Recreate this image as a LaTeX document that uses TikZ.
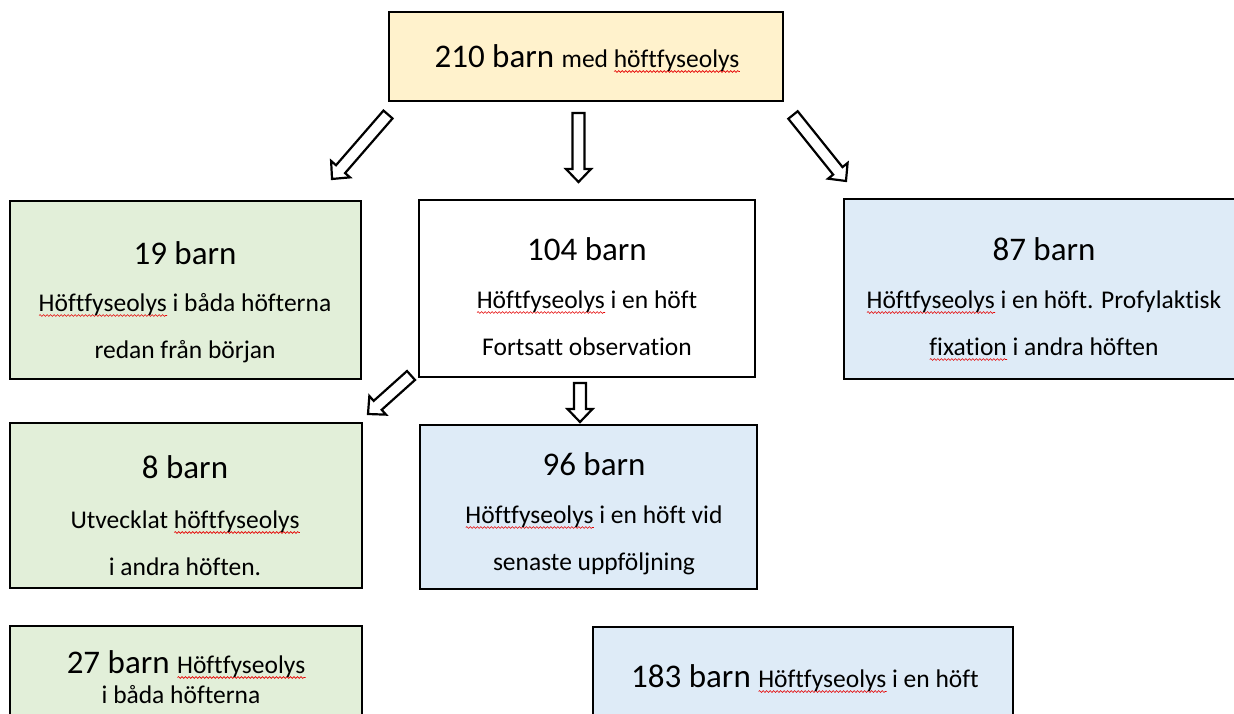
\documentclass[tikz,border=0pt]{standalone}
\usepackage{fontspec}
\setmainfont{Carlito}[Ligatures=NoCommon]
\usetikzlibrary{calc,decorations.pathmorphing}
\definecolor{ylw}{HTML}{FFF2CC}
\definecolor{grn}{HTML}{E2EFD9}
\definecolor{blu}{HTML}{DEEBF7}
\newlength\rwlen
\newcommand\redwave[1]{\settowidth\rwlen{#1}\rlap{\tikz[baseline=0pt]{\draw[red!90!black, line width=0.6pt, decorate, decoration={snake, amplitude=0.9pt, segment length=3.5pt}] (0pt,-4.5pt) -- (\rwlen,-4.5pt);}}#1}
\newcommand\bigtxt{\fontsize{33}{40}\selectfont}
\newcommand\smtxt{\fontsize{25.5}{30}\selectfont}
\newcommand\barrow[2]{%
  \pgfpointdiff{\pgfpointanchor{#1}{center}}{\pgfpointanchor{#2}{center}}%
  \pgfgetlastxy{\bdx}{\bdy}%
  \pgfmathsetmacro\bang{atan2(\bdy,\bdx)}%
  \pgfmathsetmacro\blen{veclen(\bdx,\bdy)}%
  \begin{scope}[shift={(#1)}, rotate=\bang]
    \draw[arrowline] (0,-6) -- (\blen-13,-6) -- (\blen-13,-12.5) -- (\blen,0)
      -- (\blen-13,12.5) -- (\blen-13,6) -- (0,6) -- cycle;
  \end{scope}}
\tikzset{
  box/.style={draw=black, line width=2.2pt, rectangle, inner sep=0pt},
  txt/.style={anchor=base, inner sep=0pt, text=black},
  arrowline/.style={draw=black, fill=white, line width=2.2pt, line join=miter},
}
\begin{document}
\begin{tikzpicture}[x=1pt,y=-1pt]
\useasboundingbox (0,0) rectangle (1234,713);
\begin{scope}
\clip (0,0) rectangle (1234,713);
% boxes
\node[box, fill=ylw, minimum width=394pt, minimum height=89pt] (top) at (586,56.5) {};
\node[box, fill=grn, minimum width=351pt, minimum height=178pt] (b19) at (185.5,290) {};
\node[box, fill=white, minimum width=336pt, minimum height=177pt] (b104) at (587,288.5) {};
\node[box, fill=blu, minimum width=391pt, minimum height=180pt] (b87) at (1039.5,289) {};
\node[box, fill=grn, minimum width=352pt, minimum height=165pt] (b8) at (186,505.5) {};
\node[box, fill=blu, minimum width=337pt, minimum height=164pt] (b96) at (588.5,507) {};
\node[box, fill=grn, minimum width=352pt, minimum height=114pt] (b27) at (186,683) {};
\node[box, fill=blu, minimum width=420pt, minimum height=113pt] (b183) at (803,683.5) {};

% texts
\node[txt] (ttop) at (587,67) {\bigtxt 210 barn \smtxt med \redwave{höftfyseolys}};

\node[txt] (t19a) at (185,264) {\bigtxt 19 barn};
\node[txt] (t19b) at (185,311) {\smtxt \redwave{Höftfyseolys} i båda höfterna};
\node[txt] (t19c) at (185,358) {\smtxt redan från början};

\node[txt] (t104a) at (587,260) {\bigtxt 104 barn};
\node[txt] (t104b) at (587,308) {\smtxt \redwave{Höftfyseolys} i en höft};
\node[txt] (t104c) at (587,355) {\smtxt Fortsatt observation};

\node[txt] (t87a) at (1044,260) {\bigtxt 87 barn};
\node[txt] (t87b) at (1044,308) {\smtxt \redwave{Höftfyseolys} i en höft. Profylaktisk};
\node[txt] (t87c) at (1044,355) {\smtxt \redwave{fixation} i andra höften};

\node[txt] (t8a) at (185,478) {\bigtxt 8 barn};
\node[txt] (t8b) at (185,528) {\smtxt Utvecklat \redwave{höftfyseolys}};
\node[txt] (t8c) at (185,575) {\smtxt i andra höften.};

\node[txt] (t96a) at (594,475) {\bigtxt 96 barn};
\node[txt] (t96b) at (594,523) {\smtxt \redwave{Höftfyseolys} i en höft vid};
\node[txt] (t96c) at (594,570) {\smtxt senaste uppföljning};

\node[txt] (t27a) at (186,673) {\bigtxt 27 barn \smtxt\redwave{Höftfyseolys}};
\node[txt] (t27b) at (181,703) {\smtxt i båda höfterna};

\node[txt] (t183) at (805,687) {\bigtxt 183 barn \smtxt\redwave{Höftfyseolys} i en höft};
\end{scope}

% arrow end points
\coordinate (a1s) at (388,114.5); \coordinate (a1e) at (332,179);
\coordinate (a2s) at (578.5,113); \coordinate (a2e) at (578.5,182);
\coordinate (a3s) at (793,115);   \coordinate (a3e) at (846,181);
\coordinate (a4s) at (411,375.5); \coordinate (a4e) at (368,414);
\coordinate (a5s) at (580,383);   \coordinate (a5e) at (580,422);
\barrow{a1s}{a1e}
\barrow{a2s}{a2e}
\barrow{a3s}{a3e}
\barrow{a4s}{a4e}
\barrow{a5s}{a5e}
\end{tikzpicture}
\end{document}
